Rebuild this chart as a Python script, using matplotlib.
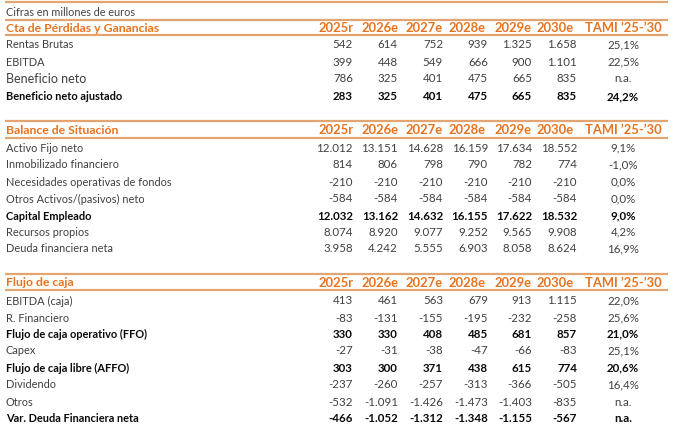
import matplotlib
matplotlib.use("Agg")
import matplotlib.pyplot as plt

plt.rcParams['font.family'] = ['Lato', 'DejaVu Sans']

years = ["2025r", "2026e", "2027e", "2028e", "2029e", "2030e"]
tami_label = "TAMI \u201925-\u201930"
unit_note = "Cifras en millones de euros"

pyg_title = "Cta de Pérdidas y Ganancias"
pyg_rows = ["Rentas Brutas", "EBITDA", "Beneficio neto", "Beneficio neto ajustado"]
pyg_vals = [
    [542, 614, 752, 939, 1325, 1658],
    [399, 448, 549, 666, 900, 1101],
    [786, 325, 401, 475, 665, 835],
    [283, 325, 401, 475, 665, 835],
]
pyg_tami = [25.1, 22.5, None, 24.2]
pyg_bold = [False, False, False, True]

bal_title = "Balance de Situación"
bal_rows = ["Activo Fijo neto", "Inmobilizado financiero", "Necesidades operativas de fondos",
            "Otros Activos/(pasivos) neto", "Capital Empleado", "Recursos propios",
            "Deuda financiera neta"]
bal_vals = [
    [12012, 13151, 14628, 16159, 17634, 18552],
    [814, 806, 798, 790, 782, 774],
    [-210, -210, -210, -210, -210, -210],
    [-584, -584, -584, -584, -584, -584],
    [12032, 13162, 14632, 16155, 17622, 18532],
    [8074, 8920, 9077, 9252, 9565, 9908],
    [3958, 4242, 5555, 6903, 8058, 8624],
]
bal_tami = [9.1, -1.0, 0.0, 0.0, 9.0, 4.2, 16.9]
bal_bold = [False, False, False, False, True, False, False]

fc_title = "Flujo de caja"
fc_rows = ["EBITDA (caja)", "R. Financiero", "Flujo de caja operativo (FFO)", "Capex",
           "Flujo de caja libre (AFFO)", "Dividendo", "Otros", "Var. Deuda Financiera neta"]
fc_vals = [
    [413, 461, 563, 679, 913, 1115],
    [-83, -131, -155, -195, -232, -258],
    [330, 330, 408, 485, 681, 857],
    [-27, -31, -38, -47, -66, -83],
    [303, 300, 371, 438, 615, 774],
    [-237, -260, -257, -313, -366, -505],
    [-532, -1091, -1426, -1473, -1403, -835],
    [-466, -1052, -1312, -1348, -1155, -567],
]
fc_tami = [22.0, 25.6, 21.0, 25.1, 20.6, 16.4, None, None]
fc_bold = [False, False, True, False, True, False, False, True]


def fmt_num(v):
    s = f"{abs(v):,}".replace(",", ".")
    return ("-" if v < 0 else "") + s


def fmt_pct(v):
    if v is None:
        return "n.a."
    return f"{v:.1f}".replace(".", ",") + "%"


W, H = 680, 433
fig = plt.figure(figsize=(W / 100, H / 100), dpi=100)
ax = fig.add_axes([0, 0, 1, 1])
ax.set_xlim(0, W)
ax.set_ylim(H, 0)
ax.axis("off")

ORANGE = "#E8731E"
LINE = "#E3A472"
GREY = "#404040"
BLACK = "#0a0a0a"

x_label = 6
val_right = [353, 398, 443, 488, 532, 577]
head_center = [336, 380, 424, 467, 513, 555]
tami_center = 623
line_x0, line_x1 = 5, 668

fs_row = 8.3
fs_lab = 7.9
fs_title = 8.8
fs_head = 9.4

ax.hlines(2, line_x0, line_x1, color=LINE, lw=1.6)
ax.text(x_label, 12, unit_note, fontsize=7.8, color="#444444", va="center")


def section(title, top_y, head_y, under_y, row_y, rows, vals, tami, bold, big=None):
    ax.hlines(top_y, line_x0, line_x1, color=LINE, lw=1.6)
    ax.hlines(under_y, line_x0, line_x1, color=LINE, lw=1.6)
    ax.text(x_label, head_y, title, fontsize=fs_title, color=ORANGE, fontweight="bold", va="center")
    for xc, yl in zip(head_center, years):
        ax.text(xc, head_y, yl, fontsize=fs_head, color=ORANGE, fontweight="bold",
                va="center", ha="center")
    ax.text(tami_center, head_y, tami_label, fontsize=fs_head, color=ORANGE,
            fontweight="bold", va="center", ha="center")
    for i, (name, y) in enumerate(zip(rows, row_y)):
        b = bold[i]
        col = BLACK if b else GREY
        fw = "bold" if b else "normal"
        fsl = fs_lab * 1.14 if (big is not None and i == big) else fs_lab
        ax.text(x_label, y, name, fontsize=fsl, color=col, fontweight=fw, va="center")
        for xr, v in zip(val_right, vals[i]):
            ax.text(xr, y, fmt_num(v), fontsize=fs_row, color=col, fontweight=fw,
                    va="center", ha="right")
        ax.text(tami_center, y, fmt_pct(tami[i]), fontsize=fs_row, color=col,
                fontweight=fw, va="center", ha="center")


section(pyg_title, 19.5, 28, 35, [45, 62, 79, 97], pyg_rows, pyg_vals, pyg_tami, pyg_bold, big=2)
section(bal_title, 121, 130, 137.5, [148, 165, 182, 199, 216, 232, 249],
        bal_rows, bal_vals, bal_tami, bal_bold)
section(fc_title, 274, 283, 290, [301, 318, 334, 351, 368, 385, 402, 419],
        fc_rows, fc_vals, fc_tami, fc_bold)

fig.savefig("out.png", dpi=100)
